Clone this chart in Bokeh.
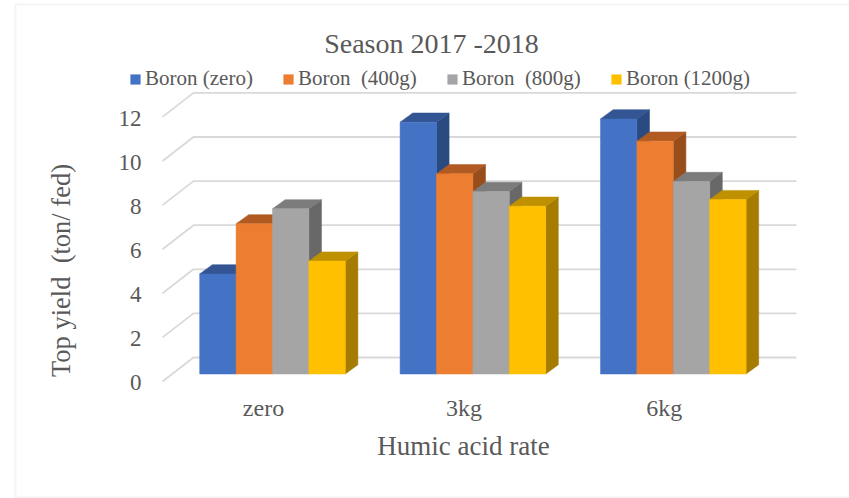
from math import pi
from bokeh.plotting import figure
from bokeh.models import (Range1d, LinearAxis, FixedTicker, Label, Legend, LegendItem,
                          BoxAnnotation)
from bokeh.embed import file_html
from bokeh.resources import INLINE

categories = ["zero", "3kg", "6kg"]
series_names = ["Boron (zero)", "Boron  (400g)", "Boron  (800g)", "Boron (1200g)"]
boron_zero = [4.54, 11.42, 11.57]
boron_400 = [6.81, 9.08, 10.56]
boron_800 = [7.49, 8.28, 8.73]
boron_1200 = [5.12, 7.61, 7.91]
y_ticks = [0, 2, 4, 6, 8, 10, 12]

front = ["#4472C4", "#ED7D31", "#A5A5A5", "#FFC000"]
top_c = ["#335593", "#B15B23", "#7C7C7C", "#BF9000"]
side_c = ["#2A4A82", "#984E1B", "#686868", "#A67C00"]
all_series = [boron_zero, boron_400, boron_800, boron_1200]

FONT = "Liberation Serif"
TXT = "#595959"
W, H = 849, 498
PX_X, PX_Y = 200.4, 22.05               # pixels per category / per unit
X0_PX, Y0_PX = 272.0, 373.5             # first group's centre, bars' base


def dx_of(px):
    return (px - X0_PX) / PX_X


def dy_of(py):
    return (Y0_PX - py) / PX_Y


xs = (0 - X0_PX) / PX_X, (W - X0_PX) / PX_X
ys = (Y0_PX - H) / PX_Y, Y0_PX / PX_Y

p = figure(width=W, height=H, output_backend="svg", toolbar_location=None,
           x_range=Range1d(*xs), y_range=Range1d(*ys),
           x_axis_location=None, y_axis_location=None,
           min_border=0, outline_line_color=None,
           background_fill_color="white", border_fill_color="white")
p.grid.visible = False

# axes share the scales of the bars, shifted to where the reference draws their labels
wall_shift = (382.3 - 373.5) / PX_Y
p.extra_y_ranges["wall"] = Range1d(ys[0] + wall_shift, ys[1] + wall_shift)
label_shift = 9 / PX_X
p.extra_x_ranges["cats"] = Range1d(xs[0] + label_shift, xs[1] + label_shift)

yax = LinearAxis(y_range_name="wall", ticker=FixedTicker(ticks=y_ticks), fixed_location=dx_of(162))
xax = LinearAxis(x_range_name="cats", ticker=FixedTicker(ticks=list(range(len(categories)))),
                 major_label_overrides={i: c for i, c in enumerate(categories)},
                 fixed_location=dy_of(384))
for ax in (yax, xax):
    ax.axis_line_color = None
    ax.major_tick_line_color = None
    ax.minor_tick_line_color = None
    ax.major_label_text_font = FONT
    ax.major_label_text_color = TXT
yax.major_label_text_font_size = "23px"
xax.major_label_text_font_size = "24px"
yax.major_label_standoff = 15
xax.major_label_standoff = 4
p.add_layout(yax, "left")
p.add_layout(xax, "below")

# gridlines: back wall and left wall
wall_dx = 31 / PX_X
wall_dy = 24 / PX_Y
wall_left = dx_of(162)
wall_right = dx_of(796)
wall_zero = dy_of(381)
gx, gy = [], []
for t in y_ticks:
    yf = t + wall_zero
    gx.append([wall_left, wall_left + wall_dx, wall_right])
    gy.append([yf, yf + wall_dy, yf + wall_dy])
p.multi_line(gx, gy, line_color="#D9D9D9", line_width=1.8)

# bars
bar_w = 36.4 / PX_X
dx = 12.6 / PX_X
dy = 9.2 / PX_Y
renderers = []
for s, vals in enumerate(all_series):
    left = [i + (s - 2) * bar_w for i in range(len(vals))]
    right = [l + bar_w for l in left]
    p.patches([[r, r + dx, r + dx, r] for r in right],
              [[0, dy, v + dy, v] for v in vals],
              fill_color=side_c[s], line_color=side_c[s], line_width=0.5)
    p.patches([[l, l + dx, r + dx, r] for l, r in zip(left, right)],
              [[v, v + dy, v + dy, v] for v in vals],
              fill_color=top_c[s], line_color=top_c[s], line_width=0.5)
    renderers.append(p.quad(left=left, right=right, bottom=[0] * len(vals), top=vals,
                            fill_color=front[s], line_color=front[s], line_width=0.5))

legend = Legend(items=[LegendItem(label=n, renderers=[r]) for n, r in zip(series_names, renderers)],
                orientation="horizontal", location=(129, H - 91),
                glyph_width=12, glyph_height=12, label_standoff=4, spacing=29, padding=0, margin=0,
                border_line_color=None, background_fill_alpha=0,
                label_text_font=FONT, label_text_font_size="21px", label_text_color=TXT)
p.add_layout(legend, "center")


def text(s, px, py, size, angle=0):
    p.add_layout(Label(x=px, y=H - py, x_units="screen", y_units="screen", text=s,
                       text_font=FONT, text_font_size=size, text_color=TXT, angle=angle,
                       text_align="center", text_baseline="middle"))


text("Season 2017 -2018", 431, 43, "28px")
text("Humic acid rate", 463, 445, "27px")
text("Top yield \u00a0(ton/ fed)", 60, 270, "26.5px", pi / 2)

p.add_layout(BoxAnnotation(left=15, right=W + 20, top=H - 4, bottom=H - 497,
                           left_units="screen", right_units="screen", top_units="screen", bottom_units="screen",
                           fill_alpha=0, line_color="#D9D9D9", line_width=2, level="underlay"))

open("out.html", "w").write(file_html(p, INLINE))
